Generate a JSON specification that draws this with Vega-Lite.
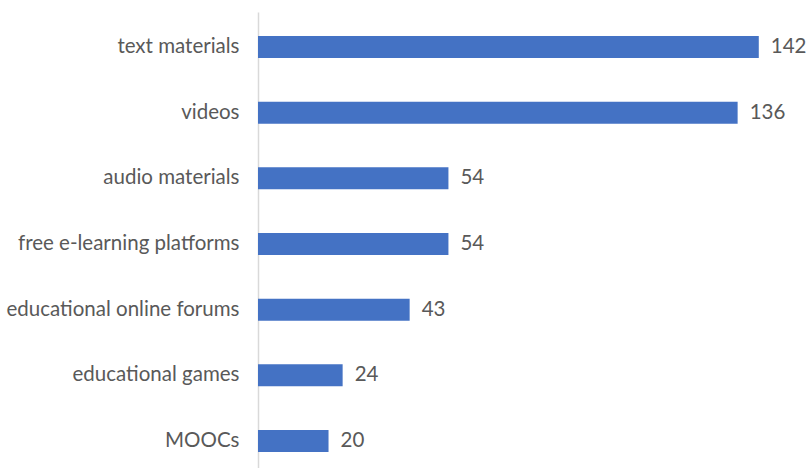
{
  "$schema": "https://vega.github.io/schema/vega-lite/v6.json",
  "autosize": "none",
  "width": 529,
  "height": 456,
  "padding": {"left": 258, "top": 12, "right": 20, "bottom": 0},
  "background": "white",
  "config": {"view": {"stroke": null}, "font": "Lato"},
  "data": {"values": [
    {"item": "text materials", "count": 142},
    {"item": "videos", "count": 136},
    {"item": "audio materials", "count": 54},
    {"item": "free e-learning platforms", "count": 54},
    {"item": "educational online forums", "count": 43},
    {"item": "educational games", "count": 24},
    {"item": "MOOCs", "count": 20}
  ]},
  "encoding": {
    "y": {"field": "item", "type": "nominal", "sort": null,
      "scale": {"paddingInner": 0.665, "paddingOuter": 0.3045, "align": 0.6},
      "axis": {"title": null, "ticks": false, "domainColor": "#D9D9D9", "domainWidth": 1.5,
        "labelFontSize": 20.5, "labelColor": "#595959", "labelPadding": 19, "labelFont": "Lato", "labelLimit": 400}},
    "x": {"field": "count", "type": "quantitative",
      "scale": {"domain": [0, 150], "nice": false}, "axis": null}
  },
  "layer": [
    {"mark": {"type": "bar", "color": "#4472C4"}},
    {"mark": {"type": "text", "align": "left", "baseline": "middle", "dx": 12, "fontSize": 20.5, "color": "#595959", "font": "Lato"},
      "encoding": {"text": {"field": "count", "type": "quantitative"}}}
  ]
}
